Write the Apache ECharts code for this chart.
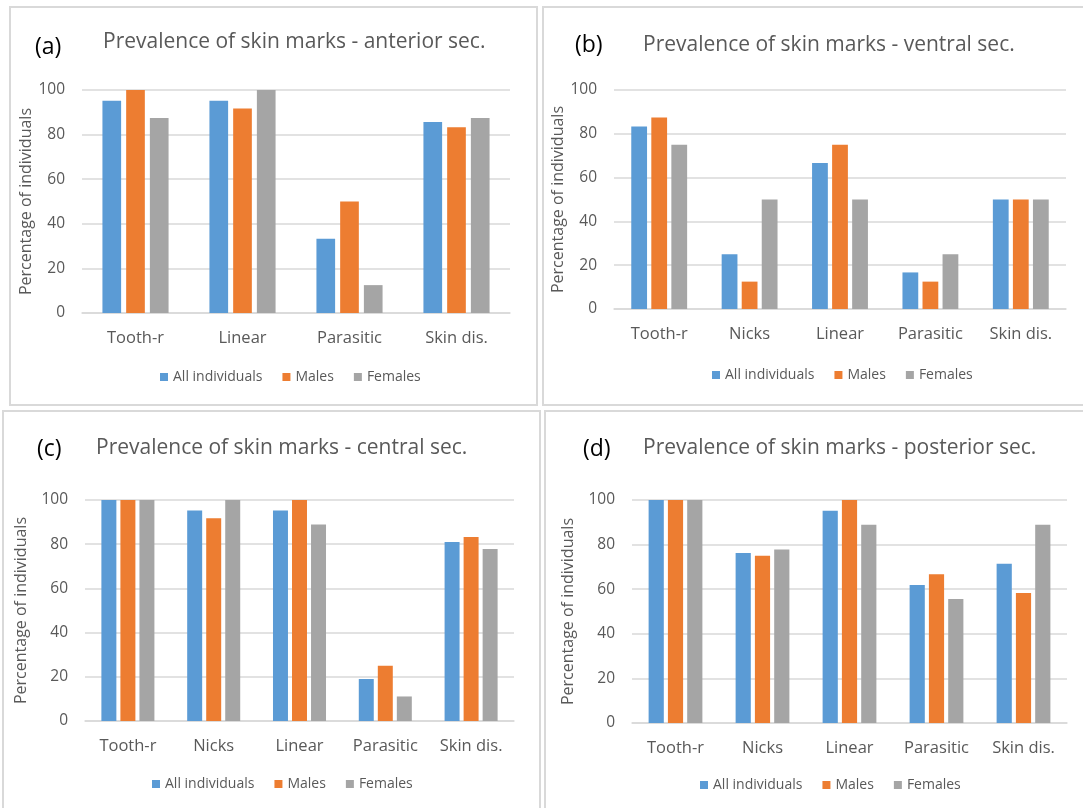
<!DOCTYPE html>
<html>
<head>
<meta charset="utf-8">
<script src="https://cdn.jsdelivr.net/npm/echarts@6/dist/echarts.min.js"></script>
<style>html,body{margin:0;padding:0;background:#fff;}#chart{width:1083px;height:808px;}</style>
</head>
<body>
<div id="chart"></div>
<script>
// ---- data ----
const seriesNames = ['All individuals', 'Males', 'Females'];
const yTicks = [0, 20, 40, 60, 80, 100];

const catsA = ['Tooth-r', 'Linear', 'Parasitic', 'Skin dis.'];
const allA = [95.2, 95.2, 33.3, 85.7];
const malesA = [100, 91.7, 50, 83.3];
const femalesA = [87.5, 100, 12.5, 87.5];

const catsB = ['Tooth-r', 'Nicks', 'Linear', 'Parasitic', 'Skin dis.'];
const allB = [83.3, 25, 66.7, 16.7, 50];
const malesB = [87.5, 12.5, 75, 12.5, 50];
const femalesB = [75, 50, 50, 25, 50];

const catsC = ['Tooth-r', 'Nicks', 'Linear', 'Parasitic', 'Skin dis.'];
const allC = [100, 95.2, 95.2, 19.0, 81.0];
const malesC = [100, 91.7, 100, 25, 83.3];
const femalesC = [100, 100, 88.9, 11.1, 77.8];

const catsD = ['Tooth-r', 'Nicks', 'Linear', 'Parasitic', 'Skin dis.'];
const allD = [100, 76.2, 95.2, 61.9, 71.4];
const malesD = [100, 75, 100, 66.7, 58.3];
const femalesD = [100, 77.8, 88.9, 55.6, 88.9];

const panelLetters = ['(a)', '(b)', '(c)', '(d)'];
const panelTitles = [
  'Prevalence of skin marks - anterior sec.',
  'Prevalence of skin marks - ventral sec.',
  'Prevalence of skin marks - central sec.',
  'Prevalence of skin marks - posterior sec.'
];
const yName = 'Percentage of individuals';

// ---- layout / style ----
const colors = ['#5B9BD5', '#ED7D31', '#A5A5A5'];
const txt = '#595959';
const FONT = 'Open Sans';

const panels = [
  { cats: catsA, vals: [allA, malesA, femalesA],
    grid: { left: 82, top: 90, width: 428, height: 223 }, nameGap: 46,
    letter: [35, 49], title: [103, 43], legend: [160, 377],
    box: [10, 7, 527, 398] },
  { cats: catsB, vals: [allB, malesB, femalesB],
    grid: { left: 614, top: 90, width: 452, height: 219 }, nameGap: 46,
    letter: [575, 47], title: [643, 46], legend: [712, 375],
    box: [543, 7, 560, 398] },
  { cats: catsC, vals: [allC, malesC, femalesC],
    grid: { left: 85, top: 500, width: 429, height: 221 }, nameGap: 56,
    letter: [37, 451], title: [96, 449], legend: [152, 784],
    box: [3, 411, 537, 420] },
  { cats: catsD, vals: [allD, malesD, femalesD],
    grid: { left: 632, top: 500, width: 435, height: 223 }, nameGap: 56,
    letter: [583, 451], title: [643, 449], legend: [700, 785],
    box: [545, 411, 560, 420] }
];

const option = {
  animation: false,
  backgroundColor: '#ffffff',
  textStyle: { fontFamily: FONT },
  grid: [], xAxis: [], yAxis: [], series: [], legend: [], title: [], graphic: []
};

panels.forEach((p, i) => {
  option.grid.push(Object.assign({ containLabel: false }, p.grid));
  option.xAxis.push({
    type: 'category', gridIndex: i, data: p.cats,
    axisLine: { lineStyle: { color: '#D9D9D9', width: 1.5 } },
    axisTick: { show: false },
    axisLabel: { color: txt, fontSize: 16.5, margin: 17, fontFamily: FONT }
  });
  option.yAxis.push({
    type: 'value', gridIndex: i, min: 0, max: 100, interval: 20,
    name: yName, nameLocation: 'middle', nameGap: p.nameGap, nameRotate: 90,
    nameTextStyle: { color: txt, fontSize: 16, fontFamily: FONT },
    axisLine: { show: false }, axisTick: { show: false },
    axisLabel: { color: txt, fontSize: 15.5, margin: 17, fontFamily: FONT,
      formatter: v => (yTicks.indexOf(v) >= 0 ? String(v) : '') },
    splitLine: { lineStyle: { color: '#D9D9D9', width: 1.5 } }
  });
  seriesNames.forEach((n, k) => {
    option.series.push({
      type: 'bar', name: n, xAxisIndex: i, yAxisIndex: i,
      data: p.vals[k], barGap: '27%', barCategoryGap: '38.2%',
      itemStyle: { color: colors[k] }
    });
  });
  option.legend.push({
    left: p.legend[0], top: p.legend[1] - 7, padding: 0,
    data: seriesNames, icon: 'rect', itemWidth: 8, itemHeight: 8, itemGap: 20,
    selectedMode: false,
    textStyle: { color: txt, fontSize: 14, fontFamily: FONT }
  });
  option.title.push({
    text: panelTitles[i], left: p.title[0], top: p.title[1] - 11, padding: 0,
    textStyle: { color: txt, fontSize: 21, fontWeight: 'normal', fontFamily: FONT }
  });
  option.graphic.push({
    type: 'text', left: p.letter[0], top: p.letter[1] - 13,
    style: { text: panelLetters[i], fill: '#000', fontSize: 23, fontFamily: FONT }
  });
  option.graphic.push({
    type: 'rect', shape: { x: p.box[0], y: p.box[1], width: p.box[2], height: p.box[3] },
    style: { fill: 'none', stroke: '#D9D9D9', lineWidth: 2 }, silent: true, z: -1
  });
});

const chart = echarts.init(document.getElementById('chart'), null, { renderer: 'canvas' });
chart.setOption(option);
</script>
</body>
</html>
